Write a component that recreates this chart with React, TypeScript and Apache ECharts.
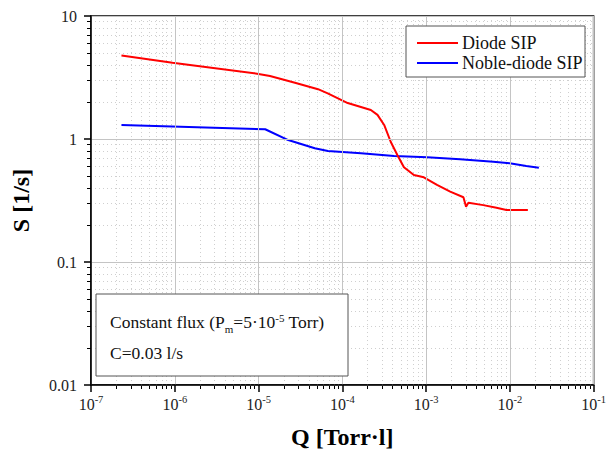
import React, { useEffect, useRef } from "react";
import * as echarts from "echarts";

const diodeQ = [2.31e-7, 9.4e-7, 1.0e-5, 1.37e-5, 2.72e-5, 5.13e-5, 6.7e-5, 1.16e-4, 2.19e-4, 2.63e-4, 3.16e-4, 3.78e-4, 4.54e-4, 5.44e-4, 7.15e-4, 9.4e-4, 1.35e-3, 1.94e-3, 2.79e-3, 3.0e-3, 3.2e-3, 4.82e-3, 6.92e-3, 9.1e-3, 1.64e-2];
const diodeS = [4.77, 4.17, 3.38, 3.25, 2.87, 2.54, 2.35, 1.96, 1.72, 1.57, 1.3, 0.95, 0.741, 0.589, 0.509, 0.488, 0.423, 0.373, 0.336, 0.282, 0.303, 0.29, 0.276, 0.265, 0.265];
const nobleQ = [2.31e-7, 1.2e-5, 2.26e-5, 4.69e-5, 6.73e-5, 1.67e-4, 4.15e-4, 1.03e-3, 2.55e-3, 6.33e-3, 9.95e-3, 1.57e-2, 2.22e-2];
const nobleS = [1.3, 1.2, 0.98, 0.84, 0.798, 0.765, 0.727, 0.71, 0.684, 0.653, 0.634, 0.603, 0.585];
const yTickLabels: Record<string, string> = { "0.01": "0.01", "0.1": "0.1", "1": "1", "10": "10" };
const seriesNames = ["Diode SIP", "Noble-diode SIP"];
const xDecades = [-7, -6, -5, -4, -3, -2];
const yDecades = [-2, -1, 0];
const minorMultipliers = [2, 3, 4, 5, 6, 7, 8, 9];

const minorX: number[] = [];
xDecades.forEach((d) => minorMultipliers.forEach((m) => minorX.push(+(m * Math.pow(10, d)).toPrecision(3))));
const minorY: number[] = [];
yDecades.forEach((d) => minorMultipliers.forEach((m) => minorY.push(+(m * Math.pow(10, d)).toPrecision(3))));

const FONT = "Liberation Serif";
const minorGrid = { show: true, lineStyle: { color: "#cfcfcf", width: 1, type: [1, 3] } };

export default function App() {
  const ref = useRef<HTMLDivElement>(null);
  useEffect(() => {
    if (!ref.current) return;
    const chart = echarts.init(ref.current, undefined, { renderer: "svg" });
    chart.setOption({
      animation: false,
      grid: {
        left: 91, right: 12, top: 16, bottom: 73,
        show: true, borderColor: "#000", borderWidth: 1.5, backgroundColor: "transparent",
      },
      xAxis: [
        {
          type: "log", logBase: 10, min: 1e-7, max: 1e-1,
          name: "Q [Torr·l]", nameLocation: "middle", nameGap: 40,
          nameTextStyle: { fontFamily: FONT, fontSize: 24, fontWeight: "bold", color: "#000" },
          axisLine: { show: true, lineStyle: { color: "#000", width: 1.5 } },
          axisTick: { show: true, inside: false, length: 7, lineStyle: { color: "#000", width: 1.5 } },
          minorTick: { show: false },
          splitLine: { show: true, lineStyle: { color: "#c4c4c4", width: 1 } },
          axisLabel: {
            margin: 9,
            formatter: (v: number) => `{b|10}{s|${Math.round(Math.log10(v))}}`,
            rich: {
              b: { fontFamily: FONT, fontSize: 16, color: "#222" },
              s: { fontFamily: FONT, fontSize: 10.5, color: "#222", padding: [0, 0, 9, 0] },
            },
          },
          z: 5,
        },
        {
          type: "log", logBase: 10, min: 1e-7, max: 1e-1, position: "bottom",
          axisLine: { show: false },
          axisLabel: { show: false },
          axisTick: { show: true, inside: false, length: 4, customValues: minorX, lineStyle: { color: "#000", width: 1 } },
          splitLine: minorGrid,
        },
      ],
      yAxis: [
        {
          type: "log", logBase: 10, min: 0.01, max: 10,
          name: "S [1/s]", nameLocation: "middle", nameGap: 58, nameRotate: 90,
          nameTextStyle: { fontFamily: FONT, fontSize: 24, fontWeight: "bold", color: "#000" },
          axisLine: { show: true, lineStyle: { color: "#000", width: 1.5 } },
          axisTick: { show: true, inside: false, length: 7, lineStyle: { color: "#000", width: 1.5 } },
          minorTick: { show: false },
          splitLine: { show: true, lineStyle: { color: "#c4c4c4", width: 1 } },
          axisLabel: {
            margin: 14, fontFamily: FONT, fontSize: 16, color: "#222",
            formatter: (v: number) => yTickLabels[String(+v.toPrecision(3))] ?? String(v),
          },
          z: 5,
        },
        {
          type: "log", logBase: 10, min: 0.01, max: 10, position: "left",
          axisLine: { show: false },
          axisLabel: { show: false },
          axisTick: { show: true, inside: false, length: 4, customValues: minorY, lineStyle: { color: "#000", width: 1 } },
          splitLine: minorGrid,
        },
      ],
      series: [
        {
          name: seriesNames[0], type: "line", showSymbol: false, symbol: "none",
          lineStyle: { color: "#ff0000", width: 2 }, itemStyle: { color: "#ff0000" },
          data: diodeQ.map((q, i) => [q, diodeS[i]]), z: 3,
        },
        {
          name: seriesNames[1], type: "line", showSymbol: false, symbol: "none",
          lineStyle: { color: "#0000ff", width: 2 }, itemStyle: { color: "#0000ff" },
          data: nobleQ.map((q, i) => [q, nobleS[i]]), z: 2,
        },
      ],
      graphic: [
        { type: "rect", shape: { x: 406, y: 26, width: 179, height: 51 }, style: { fill: "#fff", stroke: "#555", lineWidth: 1 }, z: 10 },
        { type: "line", shape: { x1: 417, y1: 43, x2: 458, y2: 43 }, style: { stroke: "#ff0000", lineWidth: 2 }, z: 11 },
        { type: "line", shape: { x1: 417, y1: 63, x2: 458, y2: 63 }, style: { stroke: "#0000ff", lineWidth: 2 }, z: 11 },
        { type: "text", x: 462, y: 43, style: { text: seriesNames[0], fontFamily: FONT, fontSize: 18, fill: "#111", verticalAlign: "middle" }, z: 11 },
        { type: "text", x: 462, y: 63, style: { text: seriesNames[1], fontFamily: FONT, fontSize: 18, fill: "#111", verticalAlign: "middle" }, z: 11 },
        { type: "rect", shape: { x: 96, y: 294, width: 252, height: 82 }, style: { fill: "#fff", stroke: "#555", lineWidth: 1 }, z: 10 },
        {
          type: "text", x: 110, y: 322, z: 11,
          style: {
            text: "{n|Constant flux (P}{sub|m}{n|=5·10}{sup|-5}{n| Torr)}",
            verticalAlign: "middle",
            rich: {
              n: { fontFamily: FONT, fontSize: 17.5, fill: "#111", lineHeight: 28, verticalAlign: "middle" },
              sub: { fontFamily: FONT, fontSize: 11, fill: "#111", lineHeight: 28, verticalAlign: "bottom", padding: [0, 0, 2, 0] },
              sup: { fontFamily: FONT, fontSize: 11, fill: "#111", lineHeight: 28, verticalAlign: "top", padding: [4, 0, 0, 0] },
            },
          },
        },
        { type: "text", x: 110, y: 353, style: { text: "C=0.03 l/s", fontFamily: FONT, fontSize: 17.5, fill: "#111", verticalAlign: "middle" }, z: 11 },
      ],
    });
    return () => chart.dispose();
  }, []);
  return <div ref={ref} style={{ width: 609, height: 458, position: "absolute", left: 0, top: 0 }} />;
}
